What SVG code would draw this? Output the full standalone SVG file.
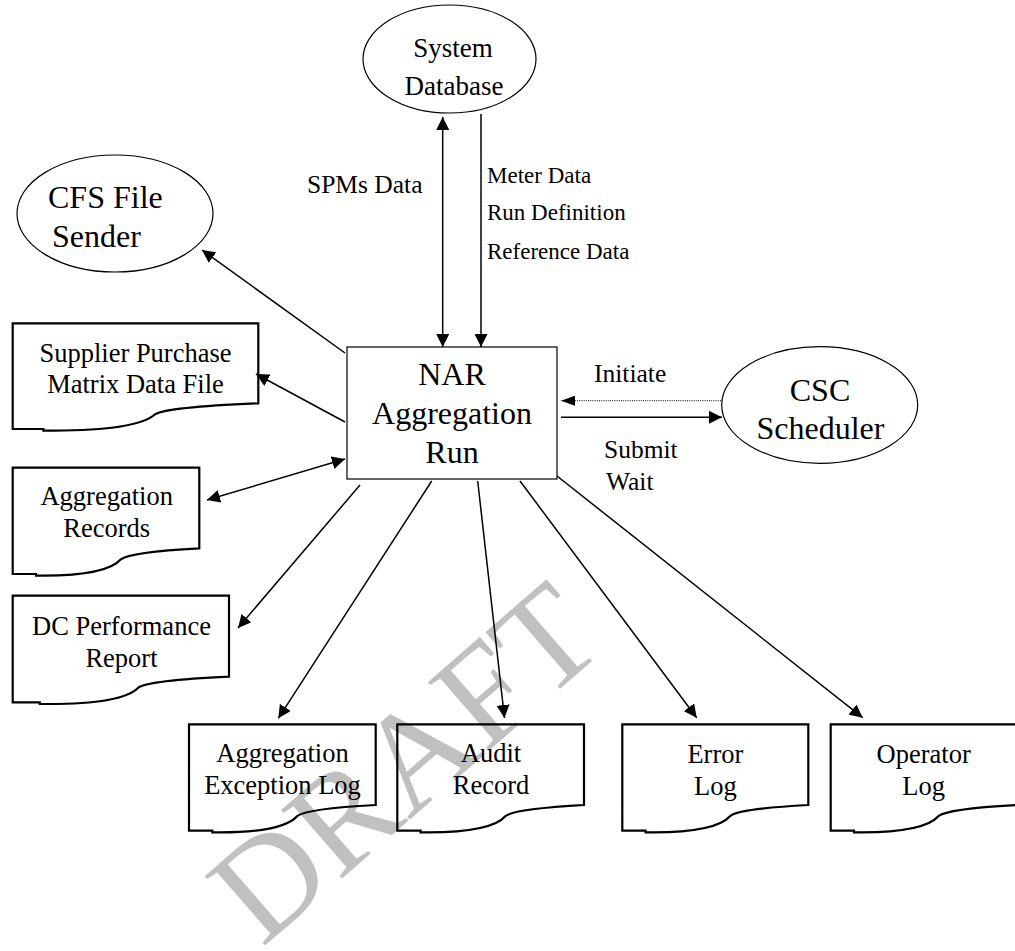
<svg xmlns="http://www.w3.org/2000/svg" width="1015" height="951" viewBox="0 0 1015 951">
  <style>
    .bg { fill: #ffffff; }
    text { font-family: "Liberation Serif", "Times New Roman", serif; fill: #000000; }
    .mark { fill: #c0c0c0; font-size: 140px; }
    .ent { fill: none; stroke: #000000; stroke-width: 1.2; }
    .proc { fill: none; stroke: #000000; stroke-width: 1.2; }
    .doc { fill: none; stroke: #000000; stroke-width: 2.2; stroke-linejoin: miter; }
    .t32 { font-size: 32px; text-anchor: middle; }
    .t27 { font-size: 27px; text-anchor: middle; }
    .t26 { font-size: 26.5px; text-anchor: middle; }
    .lbl { font-size: 23px; }
    .lbl25 { font-size: 25.5px; }
    .flow { fill: none; stroke: #000000; stroke-width: 1.5; }
    .dot { fill: none; stroke: #000000; stroke-width: 1; stroke-dasharray: 1 1.2; }
  </style>
  <defs>
    <marker id="arrow" viewBox="0 0 13 13" refX="13" refY="6.5" markerWidth="13" markerHeight="13" markerUnits="userSpaceOnUse" orient="auto-start-reverse">
      <path d="M0,0 L13,6.5 L0,13 Z" fill="#000000"/>
    </marker>
    <marker id="arrowSmall" viewBox="0 0 14 10" refX="14" refY="5" markerWidth="14" markerHeight="10" markerUnits="userSpaceOnUse" orient="auto">
      <path d="M0,0 L14,5 L0,10 Z" fill="#000000"/>
    </marker>
  </defs>

  <rect class="bg" x="0" y="0" width="1015" height="951"/>

  <!-- watermark -->
  <text class="mark" x="262" y="948" transform="rotate(-41 262 948)">DRAFT</text>

  <!-- external entities -->
  <g id="system-database">
    <ellipse class="ent" cx="449.5" cy="59" rx="86.5" ry="54"/>
    <text class="t27" x="453" y="57">System</text>
    <text class="t27" x="454" y="95">Database</text>
  </g>

  <g id="cfs-file-sender">
    <ellipse class="ent" cx="115" cy="213.5" rx="98" ry="58.5"/>
    <text class="t32" x="48" y="208" style="text-anchor:start">CFS File</text>
    <text class="t32" x="52" y="247" style="text-anchor:start">Sender</text>
  </g>

  <g id="csc-scheduler">
    <ellipse class="ent" cx="819.7" cy="405" rx="98" ry="58.3"/>
    <text class="t32" x="820" y="401">CSC</text>
    <text class="t32" x="820.5" y="439">Scheduler</text>
  </g>

  <!-- central process -->
  <g id="nar-aggregation-run">
    <rect class="proc" x="347" y="347" width="210" height="132"/>
    <text class="t32" x="452" y="385">NAR</text>
    <text class="t32" x="452" y="424">Aggregation</text>
    <text class="t32" x="452" y="463">Run</text>
  </g>

  <!-- document stores -->
  <g id="supplier-purchase-matrix">
    <path class="doc" d="M12.7,323.3 H258.3 V403.3 C209.2,405.3 165,408.3 155.1,414.3 C140.4,427.3 98.7,430.6 53.5,430.6 H43.4 V429 H12.7 Z"/>
    <text class="t26" x="135.5" y="361.7">Supplier Purchase</text>
    <text class="t26" x="135.5" y="393.3">Matrix Data File</text>
  </g>

  <g id="aggregation-records">
    <path class="doc" d="M12.7,467.7 H199.3 V548.3 C162,550.3 128.4,553.3 120.9,559.3 C109.7,572.3 78,575.6 43.7,575.6 H36 V574 H12.7 Z"/>
    <text class="t26" x="106.7" y="505">Aggregation</text>
    <text class="t26" x="106.7" y="537.3">Records</text>
  </g>

  <g id="dc-performance-report">
    <path class="doc" d="M12.7,595.7 H229 V676.7 C185.7,678.7 146.8,681.7 138.2,687.7 C125.2,700.7 88.4,704 48.6,704 H39.7 V702.4 H12.7 Z"/>
    <text class="t26" x="121.5" y="634.5">DC Performance</text>
    <text class="t26" x="121.5" y="666.5">Report</text>
  </g>

  <g id="aggregation-exception-log">
    <path class="doc" d="M189,724.3 H375.7 V805 C338.4,807 304.8,810 297.3,816 C286.1,829 254.3,832.3 220,832.3 H212.3 V830.7 H189 Z"/>
    <text class="t26" x="282.5" y="761.7">Aggregation</text>
    <text class="t26" x="282.5" y="794.3">Exception Log</text>
  </g>

  <g id="audit-record">
    <path class="doc" d="M397.3,724.3 H584 V805 C546.7,807 513.1,810 505.6,816 C494.4,829 462.6,832.3 428.3,832.3 H420.6 V830.7 H397.3 Z"/>
    <text class="t26" x="491" y="761.7">Audit</text>
    <text class="t26" x="491" y="794.3">Record</text>
  </g>

  <g id="error-log">
    <path class="doc" d="M622.3,724.3 H808.3 V805 C771.1,807 737.6,810 730.2,816 C719,829 687.4,832.3 653.2,832.3 H645.6 V830.7 H622.3 Z"/>
    <text class="t26" x="715.4" y="763">Error</text>
    <text class="t26" x="715.4" y="795">Log</text>
  </g>

  <g id="operator-log">
    <path class="doc" d="M830.7,724.3 H1016.7 V805 C979.5,807 946,810 938.6,816 C927.4,829 895.8,832.3 861.6,832.3 H854 V830.7 H830.7 Z"/>
    <text class="t26" x="923.7" y="763">Operator</text>
    <text class="t26" x="923.7" y="795">Log</text>
  </g>

  <!-- data flows -->
  <g id="connectors">
    <line class="flow" x1="442.7" y1="117" x2="442.7" y2="347" marker-start="url(#arrow)" marker-end="url(#arrow)"/>
    <line class="flow" x1="481" y1="114" x2="481" y2="347" marker-end="url(#arrow)"/>
    <line class="flow" x1="345" y1="353" x2="202" y2="250" marker-end="url(#arrow)"/>
    <line class="flow" x1="345" y1="422" x2="256" y2="374" marker-end="url(#arrow)"/>
    <line class="flow" x1="207" y1="500" x2="345" y2="459" marker-start="url(#arrow)" marker-end="url(#arrow)"/>
    <line class="flow" x1="360" y1="485" x2="238" y2="628" marker-end="url(#arrow)"/>
    <line class="flow" x1="431.7" y1="481" x2="278.3" y2="718.3" marker-end="url(#arrow)"/>
    <line class="flow" x1="477.7" y1="481" x2="504.5" y2="718" marker-end="url(#arrow)"/>
    <line class="flow" x1="520" y1="481" x2="696.7" y2="717.7" marker-end="url(#arrow)"/>
    <line class="flow" x1="557" y1="476" x2="862.7" y2="717.7" marker-end="url(#arrow)"/>
    <line class="dot" x1="721" y1="400.7" x2="561" y2="400.7" marker-end="url(#arrowSmall)"/>
    <line class="flow" x1="561" y1="417.3" x2="722" y2="417.3" marker-end="url(#arrow)"/>
  </g>

  <!-- flow labels -->
  <g id="flow-labels">
    <text class="lbl" x="307" y="193" style="font-size:25.5px">SPMs Data</text>
    <text class="lbl" x="487" y="183">Meter Data</text>
    <text class="lbl" x="487" y="220">Run Definition</text>
    <text class="lbl" x="487" y="259">Reference Data</text>
    <text class="lbl25" x="594" y="382">Initiate</text>
    <text class="lbl25" x="604" y="458">Submit</text>
    <text class="lbl25" x="606" y="490">Wait</text>
  </g>
</svg>
